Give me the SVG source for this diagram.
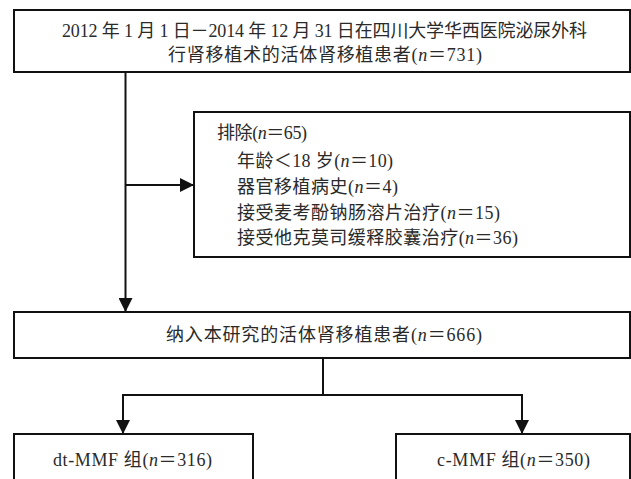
<svg xmlns="http://www.w3.org/2000/svg" width="631" height="479" viewBox="0 0 631 479">
<style>
.box{fill:#fff;stroke:#111;stroke-width:2}
.t{font-family:"Liberation Serif","Noto Sans CJK SC",serif;font-size:18px;fill:#2a2a2a}
.con{fill:none;stroke:#111;stroke-width:2}
.i{font-style:italic}
</style>
<defs>
<marker id="ah" markerUnits="userSpaceOnUse" markerWidth="14" markerHeight="14" viewBox="0 0 14 14" refX="14" refY="7" orient="auto">
<path d="M0,0 L14,7 L0,14 Z" fill="#111"/>
</marker>
</defs>
<g id="connectors">
<path class="con" d="M125.5,72 V312" marker-end="url(#ah)"/>
<path class="con" d="M125.5,185 H194" marker-end="url(#ah)"/>
<path class="con" d="M323,358 V395"/>
<path class="con" d="M123,395 H522"/>
<path class="con" d="M123,394 V434" marker-end="url(#ah)"/>
<path class="con" d="M522,394 V434" marker-end="url(#ah)"/>
</g>
<g id="n1">
<rect class="box" x="14" y="10" width="616" height="62"/>
<text class="t" x="62" y="37" textLength="525">2012 年 1 月 1 日－2014 年 12 月 31 日在四川大学华西医院泌尿外科</text>
<text class="t" x="168" y="61" textLength="314">行肾移植术的活体肾移植患者(<tspan class="i">n</tspan>＝731)</text>
</g>
<g id="n2">
<rect class="box" x="194" y="112" width="436" height="145"/>
<text class="t" x="217" y="139" textLength="90">排除(<tspan class="i">n</tspan>＝65)</text>
<text class="t" x="237" y="167" textLength="156">年龄＜18 岁(<tspan class="i">n</tspan>＝10)</text>
<text class="t" x="237" y="193" textLength="161">器官移植病史(<tspan class="i">n</tspan>＝4)</text>
<text class="t" x="237" y="219" textLength="263">接受麦考酚钠肠溶片治疗(<tspan class="i">n</tspan>＝15)</text>
<text class="t" x="237" y="244" textLength="281">接受他克莫司缓释胶囊治疗(<tspan class="i">n</tspan>＝36)</text>
</g>
<g id="n3">
<rect class="box" x="14" y="312" width="616" height="46"/>
<text class="t" x="166" y="341" textLength="316">纳入本研究的活体肾移植患者(<tspan class="i">n</tspan>＝666)</text>
</g>
<g id="n4">
<rect class="box" x="14" y="434" width="239" height="60"/>
<text class="t" x="53" y="466" textLength="159">dt-MMF 组(<tspan class="i">n</tspan>＝316)</text>
</g>
<g id="n5">
<rect class="box" x="396" y="434" width="234" height="60"/>
<text class="t" x="437" y="466" textLength="153">c-MMF 组(<tspan class="i">n</tspan>＝350)</text>
</g>
</svg>
